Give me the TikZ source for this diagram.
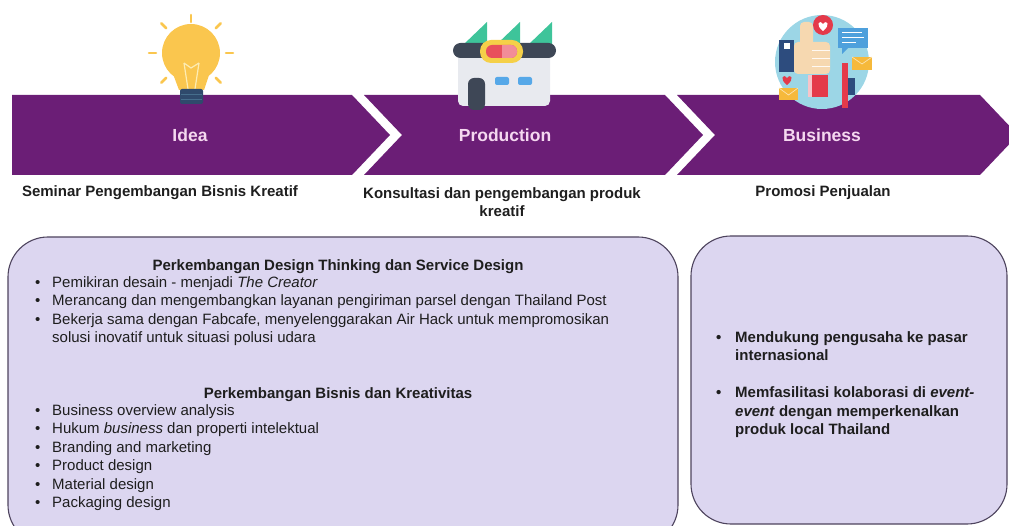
\documentclass[tikz,border=0pt]{standalone}
\usepackage{fontspec}
\setmainfont{Liberation Sans}

\definecolor{bandpurple}{RGB}{107,30,118}
\definecolor{bandtext}{RGB}{245,216,240}
\definecolor{boxfill}{RGB}{220,214,240}
\definecolor{boxline}{RGB}{78,68,94}
\definecolor{inktext}{RGB}{30,30,30}
\definecolor{bulbyellow}{RGB}{250,198,78}
\definecolor{bulbfil}{RGB}{253,236,178}
\definecolor{bulbbase}{RGB}{47,74,108}
\definecolor{bulbstripe}{RGB}{70,110,140}
\definecolor{roofgreen}{RGB}{62,196,154}
\definecolor{slate}{RGB}{62,71,86}
\definecolor{wallgray}{RGB}{232,234,239}
\definecolor{badgeyellow}{RGB}{245,208,72}
\definecolor{badgered}{RGB}{232,80,92}
\definecolor{badgepink}{RGB}{242,140,152}
\definecolor{winblue}{RGB}{86,168,232}
\definecolor{skyblue}{RGB}{156,214,230}
\definecolor{sleeveblue}{RGB}{45,76,126}
\definecolor{handbeige}{RGB}{246,216,176}
\definecolor{likered}{RGB}{228,58,74}
\definecolor{chatblue}{RGB}{78,160,220}
\definecolor{mailorange}{RGB}{246,185,59}

% bullet with fixed indent
\newcommand{\bul}[1][17pt]{\makebox[#1][l]{\textbullet}}

\begin{document}
\begin{tikzpicture}[x=1pt, y=-1pt,
    band/.style={fill=bandpurple},
    bandlabel/.style={text=bandtext, font=\fontsize{17.5}{21}\selectfont\bfseries},
    stagetext/.style={text=inktext, font=\fontsize{15}{18.5}\selectfont\bfseries, align=center},
    infobox/.style={fill=boxfill, draw=boxline, line width=1.1pt, rounded corners=40pt},
    listhead/.style={text=inktext, font=\fontsize{15}{18.5}\selectfont\bfseries, inner sep=0pt, anchor=base},
    listtext/.style={text=inktext, font=\fontsize{15}{18.5}\selectfont, align=left, inner sep=0pt, anchor=north west},
    ray/.style={bulbyellow, line width=2.6pt, line cap=round}]

    \useasboundingbox (0,0) rectangle (1009,526);
    \clip (0,0) rectangle (1009,526);

    % arrow band
    \fill[band] (12,95) -- (352,95) -- (390,135) -- (352,175) -- (12,175) -- cycle;
    \fill[band] (364,95) -- (665,95) -- (703,135) -- (665,175) -- (364,175) -- (402,135) -- cycle;
    \fill[band] (677,95) -- (980,95) -- (1018,135) -- (980,175) -- (677,175) -- (715,135) -- cycle;

    \node[bandlabel] (idea) at (190,135) {Idea};
    \node[bandlabel] (production) at (505,135) {Production};
    \node[bandlabel] (business) at (822,135) {Business};

    % light bulb
    \begin{scope}
        \foreach \a in {0,180,45,135,-45,-135} {
            \draw[ray, shift={(191,53)}] (\a:35pt) -- (\a:42pt);
        }
        \draw[ray] (191,22) -- (191,15);
        \fill[bulbyellow] (191,53) circle (29pt);
        \fill[bulbyellow] (170,66) -- (212,66) -- (204,90) -- (179,90) -- cycle;
        \draw[bulbfil, line width=1.2pt] (184,63) -- (188,89) (199,63) -- (195,89);
        \draw[bulbfil, line width=1.2pt] (184,63) -- (191,68) -- (199,63);
        \fill[bulbbase, rounded corners=2pt] (180,89) rectangle (203,104);
        \draw[bulbstripe, line width=1pt] (181,95) -- (202,95) (181,100) -- (202,100);
    \end{scope}

    % factory
    \begin{scope}
        \fill[roofgreen] (463,45) -- (487,22) -- (487,45) -- cycle;
        \fill[roofgreen] (496,45) -- (520,22) -- (520,45) -- cycle;
        \fill[roofgreen] (528,45) -- (552,22) -- (552,45) -- cycle;
        \fill[wallgray, rounded corners=5pt] (458,52) rectangle (550,106);
        \fill[slate, rounded corners=7.5pt] (453,43) rectangle (556,58);
        \fill[badgeyellow, rounded corners=11pt] (480,40) rectangle (523,63);
        \fill[badgered, rounded corners=6pt] (486,45) rectangle (517,58);
        \fill[badgepink, rounded corners=6pt] (502,45) rectangle (517,58);
        \fill[badgepink] (502,45) rectangle (508,58);
        \fill[slate, rounded corners=6pt] (468,78) rectangle (485,110);
        \fill[winblue, rounded corners=2pt] (495,77) rectangle (509,85);
        \fill[winblue, rounded corners=2pt] (518,77) rectangle (532,85);
    \end{scope}

    % social media promotion
    \begin{scope}
        \fill[skyblue] (822,62) circle (47pt);
        \fill[sleeveblue] (779,40) rectangle (794,72);
        \fill[white] (784,43) rectangle (790,49);
        \fill[handbeige, rounded corners=4pt] (794,42) rectangle (830,74);
        \fill[handbeige, rounded corners=4pt] (800,22) rectangle (813,46);
        \draw[white!85!handbeige, line width=0.8pt] (812,50) -- (830,50) (812,58) -- (830,58) (812,66) -- (830,66);
        \fill[likered] (823,25) circle (10pt);
        \fill[white, shift={(823,26)}] (0,5) .. controls (-8,-1) and (-4,-7) .. (0,-2)
            .. controls (4,-7) and (8,-1) .. (0,5) -- cycle;
        \fill[chatblue] (838,28) rectangle (868,48);
        \fill[chatblue] (842,48) -- (848,48) -- (842,54) -- cycle;
        \draw[white, line width=1pt] (842,33) -- (862,33) (842,38) -- (864,38) (842,43) -- (856,43);
        \fill[mailorange] (852,57) rectangle (872,70);
        \draw[white!60!mailorange, line width=0.7pt] (852,57) -- (862,64) -- (872,57);
        \fill[likered] (808,75) rectangle (828,97);
        \fill[white!70!likered] (808,75) rectangle (812,97);
        \fill[likered] (842,63) rectangle (848,108);
        \fill[sleeveblue] (848,78) rectangle (855,95);
        \fill[likered, shift={(787,80)}] (0,5) .. controls (-8,-1) and (-4,-7) .. (0,-2)
            .. controls (4,-7) and (8,-1) .. (0,5) -- cycle;
        \fill[mailorange] (779,88) rectangle (798,100);
        \draw[white!60!mailorange, line width=0.7pt] (779,88) -- (788.5,95) -- (798,88);
    \end{scope}

    % stage descriptions
    \node[stagetext] (ideadesc) at (160,193) {Seminar Pengembangan Bisnis Kreatif};
    \node[stagetext] (proddesc) at (502,202) {Konsultasi dan pengembangan produk\\kreatif};
    \node[stagetext] (busdesc) at (823,193) {Promosi Penjualan};

    % program boxes
    \draw[infobox] (8,237) rectangle (678,545);
    \draw[infobox] (691,236) rectangle (1007,524);

    \node[listhead] (designhead) at (338,271) {Perkembangan Design Thinking dan Service Design};
    \node[listtext] (designlist) at (35,276) {%
        \bul Pemikiran desain - menjadi \textit{The Creator}\\
        \bul Merancang dan mengembangkan layanan pengiriman parsel dengan Thailand Post\\
        \bul Bekerja sama dengan Fabcafe, menyelenggarakan Air Hack untuk mempromosikan\\
        \hspace*{17pt}solusi inovatif untuk situasi polusi udara};

    \node[listhead] (bizhead) at (338,399) {Perkembangan Bisnis dan Kreativitas};
    \node[listtext] (bizlist) at (35,404) {%
        \bul Business overview analysis\\
        \bul Hukum \textit{business} dan properti intelektual\\
        \bul Branding and marketing\\
        \bul Product design\\
        \bul Material design\\
        \bul Packaging design};

    \node[listtext, font=\fontsize{15}{18.5}\selectfont\bfseries] (promolist) at (716,331) {%
        \bul[19pt]Mendukung pengusaha ke pasar\\
        \hspace*{19pt}internasional\\[18.5pt]
        \bul[19pt]Memfasilitasi kolaborasi di \textit{event-}\\
        \hspace*{19pt}\textit{event} dengan memperkenalkan\\
        \hspace*{19pt}produk local Thailand};
\end{tikzpicture}
\end{document}
